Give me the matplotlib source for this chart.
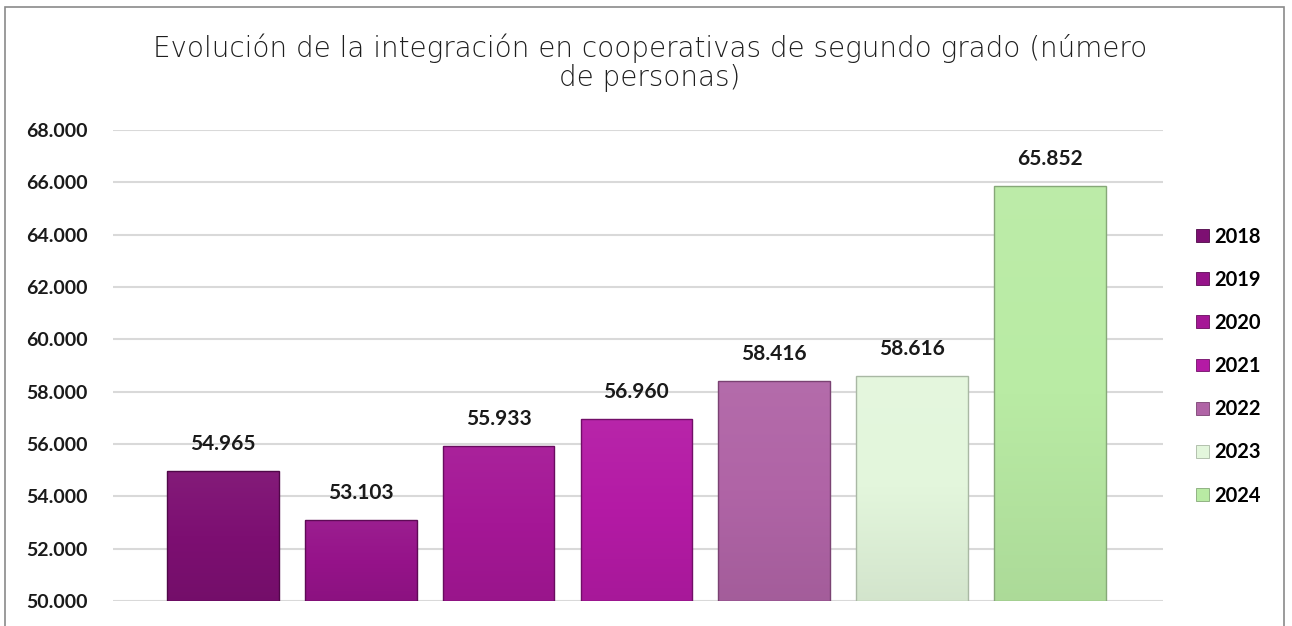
import numpy as np
import matplotlib.pyplot as plt
from matplotlib.patches import Rectangle
from matplotlib.colors import LinearSegmentedColormap, to_rgb
from matplotlib.ticker import FuncFormatter

years = ["2018", "2019", "2020", "2021", "2022", "2023", "2024"]
personas = [54965, 53103, 55933, 56960, 58416, 58616, 65852]
colores = ["#7d0f72", "#96138a", "#a51796", "#b41aa5", "#b064a6", "#e3f6dc", "#b9eba4"]
bordes = ["#4f0848", "#5e0a56", "#680c5e", "#720e68", "#7a4272", "#a9b8a4", "#86a878"]
y_ticks = list(range(50000, 68001, 2000))

titulo = "Evolución de la integración en cooperativas de segundo grado (número\nde personas)"


def miles(v, pos=None):
    return f"{int(v):,}".replace(",", ".")


def mezcla(c, f):
    r = np.array(to_rgb(c))
    if f > 0:
        return tuple(r + (1 - r) * f)
    return tuple(r * (1 + f))


fig = plt.figure(figsize=(12.92, 6.26), dpi=100)
ax = fig.add_axes([0.0875, 0.040, 0.8125, 0.7524])

# marco gris alrededor de la figura
fig.patches.append(Rectangle((0.004, -0.02), 0.99, 1.0087, transform=fig.transFigure,
                             fill=False, edgecolor="#8a8a8a", linewidth=1.2))

x = range(len(years))
bars = ax.bar(x, [p - 50000 for p in personas], bottom=50000, width=0.81,
              color=colores, edgecolor=bordes, linewidth=1.0, zorder=3)

# degradado vertical suave dentro de cada barra
grad = np.linspace(0, 1, 100).reshape(-1, 1)
for b, c in zip(bars, colores):
    cmap = LinearSegmentedColormap.from_list("g", [mezcla(c, -0.07), c, mezcla(c, 0.05)])
    x0, y0 = b.get_x(), b.get_y()
    im = ax.imshow(grad, cmap=cmap, origin="lower", aspect="auto", zorder=3.5,
                   extent=(x0, x0 + b.get_width(), y0, y0 + b.get_height()))
    im.set_clip_path(b)
    b.set_facecolor("none")
    b.set_zorder(4)

for xi, p in zip(x, personas):
    ax.annotate(miles(p), (xi, p), xytext=(0, 12), textcoords="offset points",
                ha="center", va="bottom", fontsize=15, fontweight="bold",
                family="Lato", color="#1a1a1a")

ax.set_ylim(50000, 68000)
ax.set_xlim(-0.797, 6.82)
ax.set_yticks(y_ticks)
ax.yaxis.set_major_formatter(FuncFormatter(miles))
ax.yaxis.grid(True, color="#d9d9d9", linewidth=1.5, zorder=0)
ax.set_axisbelow(True)
ax.set_xticks([])
for s in ax.spines.values():
    s.set_visible(False)
ax.tick_params(axis="y", length=0, pad=18)
for lbl in ax.get_yticklabels():
    lbl.set_fontsize(14)
    lbl.set_fontweight("bold")
    lbl.set_family("Lato")
    lbl.set_color("#1a1a1a")

fig.text(0.503, 0.947, titulo, ha="center", va="top", fontsize=20,
         family="DejaVu Sans", fontweight="light", color="#1e1e1e", linespacing=1.05)

handles = [Rectangle((0, 0), 1, 1, facecolor=c, edgecolor=b, linewidth=0.6)
           for c, b in zip(colores, bordes)]
fig.legend(handles, years, loc="upper left", bbox_to_anchor=(0.912, 0.667),
           frameon=False, prop={"family": "Lato", "weight": "bold", "size": 14.5},
           handlelength=0.6, handleheight=0.6, handletextpad=0.3, labelspacing=1.15)

fig.savefig("out.png", dpi=100)
